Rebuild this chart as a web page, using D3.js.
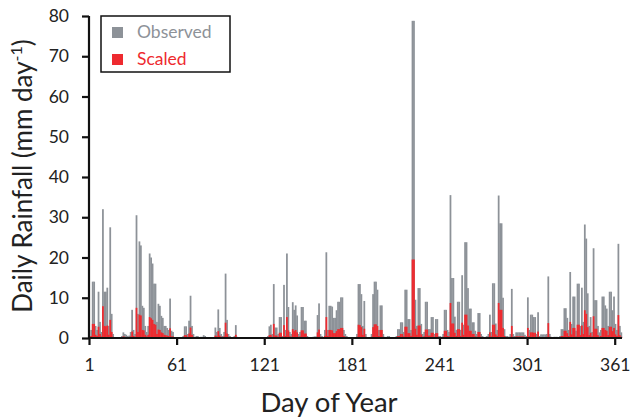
<!DOCTYPE html>
<html><head><meta charset="utf-8">
<script src="https://cdn.jsdelivr.net/npm/d3@7"></script>
<style>body{margin:0;background:#fff}svg{display:block}</style>
</head><body>
<svg id="c" width="632" height="418"></svg>
<script>
const observed = [
0.5,2,14,14,3,2,11.5,4,1.5,32,
11.5,11.5,12.5,3,27.5,6,1,0,0,0,
0,0,0.5,1.4,1,0.8,0.5,0.6,1.5,7,
2,1,30.5,6,24,23,8,7.5,3,1.5,
3,21,20,18.5,13.5,13.5,4,8.5,8,5.5,
5,3,3,2.5,2,9.8,1.8,1.5,0,0,
0,0,0,0,0.5,2.9,2.9,1,4.3,10.5,
3,1,0,0.5,0.5,0,0.3,0.3,0.7,0.5,
0,0,0,0,0,0,2.6,1.5,7.1,2.5,
1,0.5,1.5,16,4.5,1,0.5,0,0,0.5,
3.2,0.3,0.2,0,0,0,0,0,0,0,
0,0,0,0,0,0,0,0,0,0,
0,0,0.5,2.9,3.3,1,13.4,2.6,2.6,1,
5.2,5.2,0.5,13.2,2,21,7.7,1.5,1,8.9,
7,8.1,5.6,1,1.5,7.7,7.7,4.3,4.3,0.5,
0,0,0,0.3,0.4,0.4,5.7,8.6,1,0.5,
0.3,2,21.3,2,8,8,7.8,5,5,6.9,
9,9,10.1,10.1,2,1,0.5,0,0,0,
0,0,0,1,13.4,13.4,10.9,3,9.2,1,
0,0,0,1,10.9,14,14,12,2,8.1,
8.1,1,0.3,0,0.5,0.5,0,0,0,0,
0.5,2.2,2.2,3.9,3.9,1.5,12,12,4.7,4.7,
2,78.8,78.8,9.5,3,12.4,12.4,3.5,1,1.5,
9,9,2.2,2.2,5.2,5.2,1,4.7,4.7,0.5,
0.5,0.3,1,7,7,2,1.5,35.5,14.9,14.9,
5.3,2,9,9,2,15.6,3.3,23.8,23.8,12.4,
7.3,7.3,3.9,3.9,1.8,1,6.2,6.2,1,0.5,
0,0.3,0.5,1,5.8,1.5,13.6,13.6,3.6,2,
35.4,28.5,28.5,10,2.2,0.5,0.5,0.3,1,12.2,
1,0.5,1.4,1.4,1.4,1.4,1.4,1.4,0.8,0.5,
10.1,2,5.8,5.8,5.2,5.2,1,6.4,0.5,0.9,
0.9,0.9,0.9,1,15.3,1,0.3,0,0.3,0.3,
0.3,0,0.5,2.2,2.2,7.4,7.4,5,2,16.4,
3.5,10.3,10.3,1.8,13.5,13.5,3,12.5,4,28.2,
24.7,11.1,3,5.2,1.5,22.3,9.4,9.4,3,1.4,
2,10.3,10.3,8.1,7.3,3,11.5,11.5,6.9,10.3,
3.5,2,23.4,3,1.4
];
const scaled = [
0.1,0.5,3.5,3.5,0.8,0.5,2.8,1,0.4,7.9,
3,2.9,3.1,0.8,4.5,1.5,0.3,0,0,0,
0,0,0.1,0.4,0.3,0.2,0.1,0.2,0.4,1.6,
0.5,0.3,7.5,1.5,5.8,5.6,2,1.9,0.8,0.4,
0.8,5.2,4.9,4.5,3.5,3.3,1,2.1,2,1.4,
1.2,0.8,0.7,0.6,0.5,2.4,0.4,0.4,0,0,
0,0,0,0,0.1,0.7,0.7,0.3,1.1,2.6,
0.8,0.3,0,0.1,0.1,0,0.1,0.1,0.2,0.1,
0,0,0,0,0,0,0.6,0.4,1.7,0.6,
0.3,0.1,0.4,3.8,1.1,0.3,0.1,0,0,0.1,
0.8,0.1,0.05,0,0,0,0,0,0,0,
0,0,0,0,0,0,0,0,0,0,
0,0,0.1,0.7,0.8,0.3,3.5,0.6,0.6,0.3,
1.3,1.3,0.1,3.2,0.5,5.2,1.9,0.4,0.3,2.2,
1.7,2,1.4,0.3,0.4,1.9,1.9,1.1,1.1,0.1,
0,0,0,0.1,0.1,0.1,1.4,2.1,0.3,0.1,
0.1,0.5,5.2,0.5,2,2,1.9,1.2,1.2,1.7,
2.2,2.2,2.5,2.5,0.5,0.3,0.1,0,0,0,
0,0,0,0.3,3.3,3.2,2.7,0.8,2.3,0.3,
0,0,0,0.3,2.7,3.4,3.4,3,0.5,2,
2,0.3,0.1,0,0.1,0.1,0,0,0,0,
0.1,0.5,0.5,1,1,0.4,2.8,2.8,1.2,1.2,
0.5,19.5,19.5,2.3,0.8,3.1,3.1,0.9,0.3,0.4,
2.1,2.1,0.6,0.6,1.3,1.3,0.3,1.2,1.2,0.1,
0.1,0.1,0.3,1.8,1.8,0.5,0.4,8.7,3.6,3.6,
1.3,0.5,2.2,2.2,0.5,3.8,0.8,5.8,5.8,3.1,
1.8,1.8,1,1,0.4,0.3,1.5,1.5,0.3,0.1,
0,0.1,0.1,0.3,1.4,0.4,3.3,3.3,0.9,0.5,
8.7,7,7,2.5,0.5,0.1,0.1,0.1,0.3,3,
0.3,0.1,0.4,0.4,0.4,0.4,0.4,0.4,0.2,0.1,
2.5,0.5,1.4,1.4,1.3,1.3,0.3,1.6,0.1,0.2,
0.2,0.2,0.2,0.3,3.7,0.3,0.1,0,0.1,0.1,
0.1,0,0.1,0.5,0.5,1.8,1.8,1.2,0.5,4,
0.9,2.5,2.5,0.4,3.3,3.3,0.7,3.1,1,6.9,
6,2.7,0.7,1.3,0.4,5.4,2.3,2.3,0.7,0.3,
0.5,2.5,2.5,2,1.8,0.7,2.8,2.8,1.7,2.5,
0.9,0.5,5.7,0.7,0.3
];
const days = d3.range(1, 366);
const xTicks = [1, 61, 121, 181, 241, 301, 361];
const yTicks = [0, 10, 20, 30, 40, 50, 60, 70, 80];
const seriesNames = ["Observed", "Scaled"];
const colors = ["#8d9298", "#ee2a2f"];

const svg = d3.select("#c");
const font = "Lato, 'Open Sans', sans-serif";
const L = 89, R = 622, T = 16, B = 338;
const x = d3.scaleBand().domain(days).range([L, R]).padding(0);
const y = d3.scaleLinear().domain([0, 80]).range([B, T]);
const bw = x.bandwidth();

[observed, scaled].forEach((vals, si) => {
  svg.append("g").selectAll("rect").data(days).join("rect")
    .attr("x", d => x(d) - 0.1)
    .attr("width", bw + 0.3)
    .attr("y", (d, i) => y(vals[i]))
    .attr("height", (d, i) => B - y(vals[i]))
    .attr("fill", colors[si]);
});

// Y axis
const ya = svg.append("g").attr("transform", `translate(${L},0)`)
  .call(d3.axisLeft(y).tickValues(yTicks).tickSize(7).tickPadding(13));
ya.select(".domain").attr("stroke", "#111").attr("stroke-width", 2.2).attr("d", `M0,${T}V${B}`);
ya.selectAll(".tick line").attr("stroke", "#111").attr("stroke-width", 2.2);
ya.selectAll(".tick text").attr("font-family", font).attr("font-size", 17.5).attr("fill", "#222");

// X axis
const xl = d3.scaleLinear().domain([1, 366]).range([L, R]);
const xa = svg.append("g").attr("transform", `translate(0,${B})`)
  .call(d3.axisBottom(xl).tickValues(xTicks).tickFormat(d3.format("d")).tickSize(7).tickPadding(14));
xa.select(".domain").attr("stroke", "#111").attr("stroke-width", 2.2).attr("d", `M${L},0H${R}`);
xa.selectAll(".tick line").attr("stroke", "#111").attr("stroke-width", 2.2);
xa.selectAll(".tick text").attr("font-family", font).attr("font-size", 17.5).attr("fill", "#222");

// Titles
svg.append("text").attr("x", 329).attr("y", 412).attr("text-anchor", "middle")
  .attr("font-family", font).attr("font-size", 27.5).attr("fill", "#222").text("Day of Year");
const yt = svg.append("text").attr("transform", "translate(32,176) rotate(-90)")
  .attr("text-anchor", "middle").attr("font-family", font).attr("font-size", 26).attr("fill", "#222");
yt.append("tspan").text("Daily Rainfall (mm day");
yt.append("tspan").attr("dy", -10).attr("font-size", 16).text("-1");
yt.append("tspan").attr("dy", 10).text(")");

// Legend
const lg = svg.append("g");
lg.append("rect").attr("x", 101).attr("y", 16).attr("width", 129).attr("height", 56)
  .attr("fill", "#fff").attr("stroke", "#111").attr("stroke-width", 1.5);
seriesNames.forEach((n, i) => {
  lg.append("rect").attr("x", 112).attr("y", 27 + i * 27).attr("width", 11).attr("height", 11).attr("fill", colors[i]);
  lg.append("text").attr("x", 137).attr("y", 38 + i * 27).attr("font-family", font)
    .attr("font-size", 17.5).attr("fill", colors[i]).text(n);
});
</script>
</body></html>
